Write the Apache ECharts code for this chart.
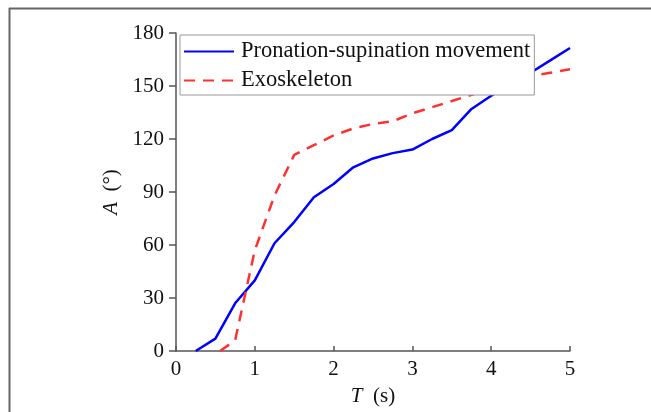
<!DOCTYPE html>
<html>
<head>
<meta charset="utf-8">
<script src="https://cdn.jsdelivr.net/npm/echarts@6/dist/echarts.min.js"></script>
<style>
  html, body { margin: 0; padding: 0; background: #fff; }
  #c1 { width: 651px; height: 412px; }
</style>
</head>
<body>
<div id="c1"></div>
<script>
// data
var seriesNames = ['Pronation-supination movement', 'Exoskeleton'];
var blueT = [0.25, 0.5, 0.75, 1.0, 1.25, 1.5, 1.75, 2.0, 2.25, 2.5, 2.75, 3.0, 3.25, 3.5, 3.75, 4.0, 4.25, 4.5, 4.75, 5.0];
var blueA = [0, 7, 27, 40, 61, 73, 87, 94.5, 104, 109, 112, 114, 120, 125, 137, 144.5, 151, 157.5, 164.5, 171.5];
var redT = [0.56, 0.75, 1.0, 1.25, 1.5, 1.75, 2.0, 2.25, 2.5, 2.75, 3.0, 3.25, 3.5, 3.75, 4.0, 4.25, 4.5, 4.75, 5.0];
var redA = [0, 6, 57, 88, 111, 116.5, 122, 126, 128.5, 130, 134.5, 138, 141.5, 145, 148.5, 152.5, 155.5, 157.5, 159.5];
var xTicks = [0, 1, 2, 3, 4, 5];
var yTicks = [0, 30, 60, 90, 120, 150, 180];

function pairs(t, a) {
    var out = [];
    for (var i = 0; i < t.length; i++) out.push([t[i], a[i]]);
    return out;
}

var font = 'Liberation Serif, Times New Roman, serif';
var axisColor = '#555';

var dom = document.getElementById('c1');
var myChart = echarts.init(dom);
var option = {
    animation: false,
    backgroundColor: '#fff',
    textStyle: { fontFamily: font },
    grid: { left: 176, right: 81, top: 33, bottom: 59, containLabel: false },
    graphic: [
        { type: 'line', shape: { x1: 9, y1: 8.5, x2: 651, y2: 8.5 }, style: { stroke: '#666', lineWidth: 2 } },
        { type: 'line', shape: { x1: 9.5, y1: 8, x2: 9.5, y2: 412 }, style: { stroke: '#666', lineWidth: 2 } }
    ],
    legend: {
        orient: 'vertical',
        left: 180,
        top: 35,
        padding: [5, 4, 3, 3],
        itemGap: 6,
        itemWidth: 50,
        itemHeight: 14,
        backgroundColor: '#fff',
        borderColor: '#999',
        borderWidth: 1,
        borderRadius: 0,
        itemStyle: { opacity: 0 },
        data: seriesNames,
        textStyle: { fontFamily: font, fontSize: 22.5, color: '#111', padding: [0, 0, 0, 2] }
    },
    xAxis: {
        type: 'value',
        min: xTicks[0],
        max: xTicks[xTicks.length - 1],
        interval: 1,
        name: '{i|T}  (s)',
        nameLocation: 'middle',
        nameGap: 35,
        nameTextStyle: {
            fontFamily: font, fontSize: 21, color: '#111',
            rich: { i: { fontFamily: font, fontSize: 21, fontStyle: 'italic', color: '#111' } }
        },
        axisLine: { show: true, lineStyle: { color: axisColor, width: 1.5 } },
        axisTick: { show: true, inside: true, length: 5, lineStyle: { color: axisColor, width: 1.5 } },
        axisLabel: { fontFamily: font, fontSize: 21, color: '#111', margin: 8 },
        splitLine: { show: false }
    },
    yAxis: {
        type: 'value',
        min: yTicks[0],
        max: yTicks[yTicks.length - 1],
        interval: 30,
        name: '{i|A}  (°)',
        nameLocation: 'middle',
        nameGap: 54,
        nameTextStyle: {
            fontFamily: font, fontSize: 21, color: '#111',
            rich: { i: { fontFamily: font, fontSize: 21, fontStyle: 'italic', color: '#111' } }
        },
        axisLine: { show: true, lineStyle: { color: axisColor, width: 1.5 } },
        axisTick: { show: true, inside: false, length: 7, lineStyle: { color: axisColor, width: 1.5 } },
        axisLabel: { fontFamily: font, fontSize: 21, color: '#111', margin: 12 },
        splitLine: { show: false }
    },
    series: [
        {
            name: seriesNames[0],
            type: 'line',
            data: pairs(blueT, blueA),
            showSymbol: false,
            symbol: 'none',
            color: '#0000ff',
            lineStyle: { color: '#0000ff', width: 2.5 },
            z: 2
        },
        {
            name: seriesNames[1],
            type: 'line',
            data: pairs(redT, redA),
            showSymbol: false,
            symbol: 'none',
            color: '#ff3030',
            lineStyle: { color: '#ff3030', width: 2.5, type: [11, 8] },
            z: 2
        }
    ]
};
if (option && typeof option === 'object') {
    myChart.setOption(option, true);
}
</script>
</body>
</html>
